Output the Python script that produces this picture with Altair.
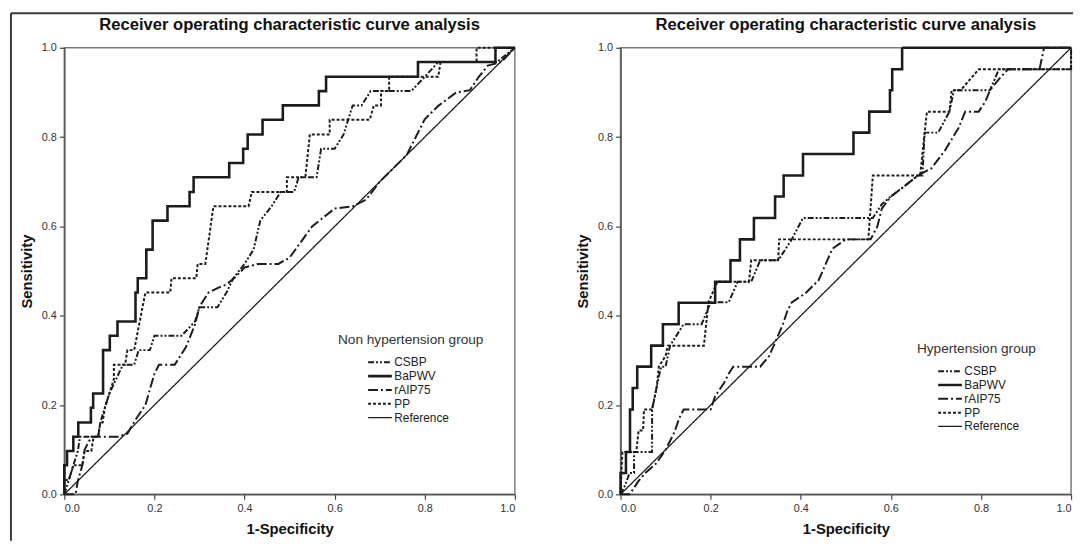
import altair as alt
import pandas as pd

TITLE = "Receiver operating characteristic curve analysis"
SERIES = ["CSBP", "BaPWV", "rAIP75", "PP", "Reference"]
TICKS = [0.0, 0.2, 0.4, 0.6, 0.8, 1.0]

REF_X = [0.0, 1.0]
REF_Y = [0.0, 1.0]

# ---------------- Non hypertension group ----------------
NH_BAPWV_X = [0, 0, 0.006, 0.006, 0.02, 0.02, 0.031, 0.031, 0.059, 0.059, 0.064, 0.064,
              0.086, 0.086, 0.101, 0.101, 0.118, 0.118, 0.158, 0.158, 0.163, 0.163,
              0.182, 0.182, 0.196, 0.196, 0.229, 0.229, 0.278, 0.278, 0.287, 0.287,
              0.366, 0.366, 0.397, 0.397, 0.407, 0.407, 0.44, 0.44, 0.485, 0.485,
              0.565, 0.565, 0.581, 0.581, 0.785, 0.785, 0.957, 0.957, 1.0]
NH_BAPWV_Y = [0, 0.065, 0.065, 0.097, 0.097, 0.129, 0.129, 0.161, 0.161, 0.194, 0.194, 0.226,
              0.226, 0.323, 0.323, 0.355, 0.355, 0.387, 0.387, 0.452, 0.452, 0.484,
              0.484, 0.548, 0.548, 0.613, 0.613, 0.645, 0.645, 0.677, 0.677, 0.710,
              0.710, 0.742, 0.742, 0.774, 0.774, 0.806, 0.806, 0.839, 0.839, 0.871,
              0.871, 0.903, 0.903, 0.935, 0.935, 0.968, 0.968, 1.0, 1.0]

NH_PP_X = [0, 0, 0.01, 0.02, 0.04, 0.045, 0.06, 0.065, 0.075, 0.08, 0.085, 0.09, 0.1, 0.11,
           0.11, 0.135, 0.14, 0.155, 0.18, 0.235, 0.238, 0.293, 0.296, 0.313, 0.331, 0.409,
           0.416, 0.494, 0.494, 0.535, 0.545, 0.589, 0.589, 0.678, 0.687, 0.703, 0.703,
           0.721, 0.721, 0.83, 0.835, 0.915, 0.915, 1.0]
NH_PP_Y = [0, 0.032, 0.032, 0.065, 0.065, 0.097, 0.097, 0.129, 0.129, 0.161, 0.161, 0.194,
           0.226, 0.258, 0.29, 0.29, 0.323, 0.323, 0.452, 0.452, 0.484, 0.484, 0.516, 0.516,
           0.645, 0.645, 0.677, 0.677, 0.71, 0.71, 0.806, 0.806, 0.839, 0.839, 0.871, 0.871,
           0.903, 0.903, 0.935, 0.935, 0.968, 0.968, 1.0, 1.0]

NH_CSBP_X = [0, 0.01, 0.02, 0.03, 0.035, 0.075, 0.08, 0.09, 0.1, 0.115, 0.13, 0.155, 0.165,
             0.19, 0.2, 0.26, 0.29, 0.3, 0.34, 0.36, 0.375, 0.4, 0.42, 0.435, 0.46, 0.48,
             0.51, 0.52, 0.56, 0.57, 0.6, 0.62, 0.64, 0.66, 0.68, 0.77, 0.8, 0.83, 0.96, 1.0]
NH_CSBP_Y = [0, 0.032, 0.065, 0.097, 0.129, 0.129, 0.161, 0.194, 0.226, 0.258, 0.29, 0.29,
             0.323, 0.323, 0.355, 0.355, 0.387, 0.419, 0.419, 0.452, 0.484, 0.516, 0.548,
             0.613, 0.645, 0.677, 0.677, 0.71, 0.71, 0.774, 0.774, 0.806, 0.871, 0.871,
             0.903, 0.903, 0.935, 0.968, 0.968, 1.0]

NH_RAIP_X = [0, 0.025, 0.03, 0.04, 0.045, 0.06, 0.12, 0.14, 0.16, 0.18, 0.2, 0.21, 0.245,
             0.27, 0.29, 0.3, 0.32, 0.34, 0.36, 0.38, 0.4, 0.43, 0.475, 0.5, 0.55, 0.6, 0.64,
             0.67, 0.7, 0.76, 0.8, 0.83, 0.87, 0.9, 0.92, 0.94, 0.97, 1.0]
NH_RAIP_Y = [0, 0, 0.03, 0.065, 0.1, 0.129, 0.129, 0.136, 0.17, 0.2, 0.27, 0.29, 0.29,
             0.33, 0.38, 0.42, 0.452, 0.462, 0.47, 0.487, 0.508, 0.516, 0.516, 0.53, 0.6,
             0.64, 0.645, 0.66, 0.7, 0.76, 0.84, 0.87, 0.9, 0.905, 0.935, 0.96, 0.968, 1.0]

# ---------------- Hypertension group ----------------
H_BAPWV_X = [0, 0, 0.012, 0.012, 0.021, 0.021, 0.027, 0.027, 0.037, 0.037, 0.068, 0.068,
             0.094, 0.094, 0.129, 0.129, 0.21, 0.21, 0.244, 0.244, 0.265, 0.265, 0.296,
             0.296, 0.343, 0.343, 0.362, 0.362, 0.405, 0.405, 0.517, 0.517, 0.552, 0.552,
             0.598, 0.598, 0.603, 0.603, 0.625, 0.625, 1.0]
H_BAPWV_Y = [0, 0.048, 0.048, 0.095, 0.095, 0.19, 0.19, 0.238, 0.238, 0.286, 0.286, 0.333,
             0.333, 0.381, 0.381, 0.429, 0.429, 0.476, 0.476, 0.524, 0.524, 0.571, 0.571,
             0.619, 0.619, 0.667, 0.667, 0.714, 0.714, 0.762, 0.762, 0.81, 0.81, 0.857,
             0.857, 0.905, 0.905, 0.952, 0.952, 1.0, 1.0]

H_PP_X = [0, 0.004, 0.035, 0.04, 0.05, 0.052, 0.07, 0.08, 0.085, 0.1, 0.105, 0.185, 0.19,
          0.195, 0.215, 0.285, 0.29, 0.35, 0.352, 0.55, 0.56, 0.665, 0.68, 0.73, 0.735,
          0.755, 0.795, 1.0, 1.0]
H_PP_Y = [0, 0.095, 0.095, 0.143, 0.143, 0.19, 0.19, 0.238, 0.286, 0.31, 0.333, 0.333,
          0.381, 0.43, 0.476, 0.476, 0.524, 0.524, 0.571, 0.571, 0.714, 0.714, 0.857,
          0.857, 0.905, 0.905, 0.952, 0.952, 1.0]

H_CSBP_X = [0, 0.01, 0.02, 0.03, 0.03, 0.07, 0.07, 0.08, 0.09, 0.1, 0.11, 0.14, 0.18, 0.2,
            0.24, 0.26, 0.29, 0.31, 0.35, 0.38, 0.405, 0.56, 0.58, 0.6, 0.63, 0.66, 0.67,
            0.675, 0.705, 0.73, 0.74, 0.82, 0.84, 1.0, 1.0]
H_CSBP_Y = [0, 0.02, 0.048, 0.048, 0.095, 0.095, 0.19, 0.24, 0.286, 0.286, 0.333, 0.381,
            0.381, 0.43, 0.43, 0.476, 0.476, 0.524, 0.524, 0.571, 0.619, 0.619, 0.65, 0.667,
            0.69, 0.714, 0.714, 0.81, 0.81, 0.857, 0.905, 0.905, 0.952, 0.952, 1.0]

H_RAIP_X = [0, 0.02, 0.04, 0.055, 0.08, 0.1, 0.12, 0.13, 0.14, 0.2, 0.21, 0.23, 0.24, 0.25,
            0.31, 0.33, 0.34, 0.36, 0.37, 0.38, 0.41, 0.44, 0.47, 0.5, 0.555, 0.57, 0.58,
            0.6, 0.63, 0.66, 0.69, 0.72, 0.75, 0.765, 0.795, 0.81, 0.82, 0.84, 0.86, 0.93,
            0.94, 1.0]
H_RAIP_Y = [0, 0, 0.03, 0.048, 0.07, 0.1, 0.14, 0.17, 0.19, 0.19, 0.22, 0.25, 0.27, 0.286,
            0.286, 0.31, 0.333, 0.38, 0.41, 0.43, 0.45, 0.48, 0.55, 0.571, 0.571, 0.6, 0.64,
            0.667, 0.69, 0.714, 0.73, 0.77, 0.82, 0.857, 0.857, 0.88, 0.905, 0.93, 0.952,
            0.952, 1.0, 1.0]

# ---------------- styles ----------------
INK = "#1c1c1c"
FONT = "Liberation Sans"
DASHES = [[6, 2, 2, 2, 2, 2], [1, 0], [10, 3, 2, 3], [3, 2], [1, 0]]
WIDTHS = [2.0, 2.6, 2.0, 2.0, 1.3]
W, H = 456, 452


def roc_table(curves):
    rows = []
    for s in SERIES:
        xs, ys = curves[s]
        for i, (a, b) in enumerate(zip(xs, ys)):
            rows.append({"series": s, "idx": i, "fpr": a, "tpr": b})
    return pd.DataFrame(rows)


def panel(df, legend_title, lx, ly, soff, frame=False):
    legend = alt.Legend(
        title=legend_title, orient="none", legendX=lx, legendY=ly, columns=1,
        symbolType="stroke", symbolSize=576, symbolStrokeColor=INK, clipHeight=13,
        symbolOffset=soff, labelOffset=1, rowPadding=1, titlePadding=9,
        titleFontSize=13.8, titleFontWeight="normal", titleColor="#333", titleFont=FONT,
        labelFontSize=12, labelColor="#222", labelFont=FONT,
    )
    lines = alt.Chart(df).mark_line(color=INK, strokeCap="butt").encode(
        x=alt.X("fpr:Q", scale=alt.Scale(domain=[0, 1], nice=False, zero=False),
                axis=alt.Axis(title="1-Specificity", values=TICKS, format=".1f", titlePadding=9)),
        y=alt.Y("tpr:Q", scale=alt.Scale(domain=[0, 1], nice=False, zero=False),
                axis=alt.Axis(title="Sensitivity", values=TICKS, format=".1f", titlePadding=7)),
        strokeDash=alt.StrokeDash("series:N", scale=alt.Scale(domain=SERIES, range=DASHES),
                                  legend=legend),
        strokeWidth=alt.StrokeWidth("series:N",
                                    scale=alt.Scale(type="ordinal", domain=SERIES, range=WIDTHS),
                                    legend=legend),
        order=alt.Order("idx:Q"),
    )
    one = pd.DataFrame({"k": [0]})
    title = alt.Chart(one).mark_text(
        text=TITLE, font=FONT, fontSize=16.8, fontWeight="bold", color="#111",
        align="center", baseline="middle",
    ).encode(x=alt.value(W / 2), y=alt.value(-23))
    layers = [lines, title]
    if frame:
        vline = alt.Chart(one).mark_rule(color="#3a3a3a", strokeWidth=2).encode(
            x=alt.value(-54), y=alt.value(-35), y2=alt.value(499))
        hline = alt.Chart(one).mark_rule(color="#3a3a3a", strokeWidth=2).encode(
            x=alt.value(-54), x2=alt.value(1021), y=alt.value(-35))
        layers += [vline, hline]
    return alt.layer(*layers).properties(width=W, height=H)


nh = roc_table({
    "CSBP": (NH_CSBP_X, NH_CSBP_Y),
    "BaPWV": (NH_BAPWV_X, NH_BAPWV_Y),
    "rAIP75": (NH_RAIP_X, NH_RAIP_Y),
    "PP": (NH_PP_X, NH_PP_Y),
    "Reference": (REF_X, REF_Y),
})
hy = roc_table({
    "CSBP": (H_CSBP_X, H_CSBP_Y),
    "BaPWV": (H_BAPWV_X, H_BAPWV_Y),
    "rAIP75": (H_RAIP_X, H_RAIP_Y),
    "PP": (H_PP_X, H_PP_Y),
    "Reference": (REF_X, REF_Y),
})

left = panel(nh, "Non hypertension group", 277, 289, 29, frame=True)
right = panel(hy, "Hypertension group", 300, 298, 20)

chart = alt.hconcat(left, right, spacing=107, bounds="flush").resolve_scale(
    x="independent", y="independent", strokeDash="independent", strokeWidth="independent"
).resolve_legend(strokeDash="independent", strokeWidth="independent").properties(
    padding={"left": 1, "top": 0, "right": 0, "bottom": 0}, background="white"
).configure_view(stroke="#7a7a7a", strokeWidth=1.5).configure_axis(
    grid=False, labelFont=FONT, labelFontSize=11, labelColor="#333", labelPadding=3,
    titleFont=FONT, titleFontSize=15, titleFontWeight="bold", titleColor="#111",
    tickSize=5, tickColor="#444", tickWidth=1.2, domainColor="#555", domainWidth=1.5,
)

chart.save("out.html", embed_options={"renderer": "svg", "actions": False})
